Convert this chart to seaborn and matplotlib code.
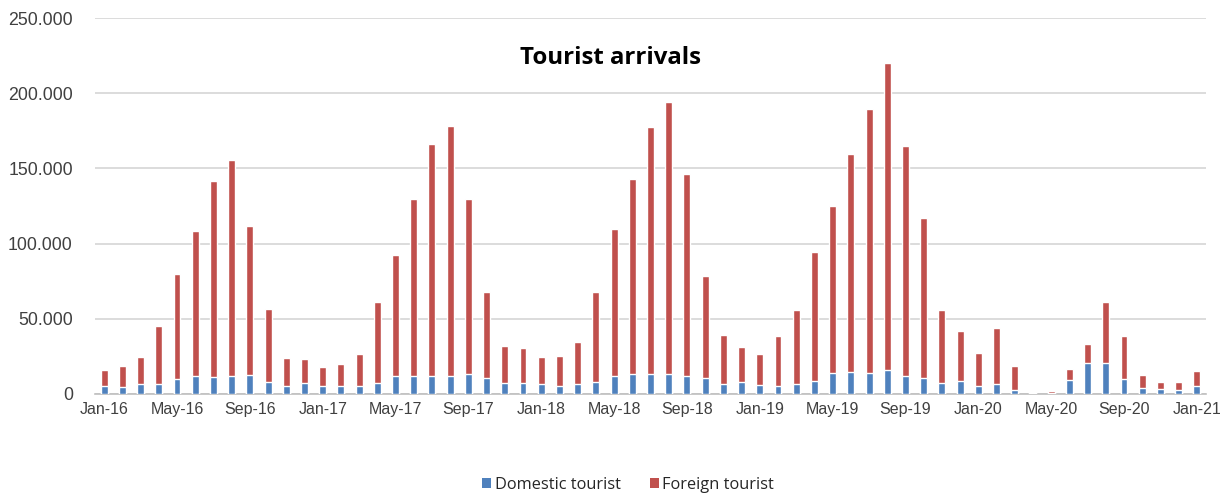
import matplotlib
matplotlib.use("Agg")
import matplotlib.pyplot as plt
from matplotlib.ticker import FuncFormatter
from matplotlib.patches import Patch
import numpy as np
import pandas as pd
import seaborn as sns

# Monthly tourist arrivals, Jan 2016 - Jan 2021
months = [f"{m}-{y}" for y in range(16, 21)
          for m in ["Jan", "Feb", "Mar", "Apr", "May", "Jun",
                    "Jul", "Aug", "Sep", "Oct", "Nov", "Dec"]] + ["Jan-21"]

domestic = [4900, 4400, 6200, 6200, 10000, 11500, 10900, 11800, 12400, 7800, 5300, 7100,
            5300, 4900, 5200, 7100, 12000, 12000, 12000, 12000, 12900, 10700, 7100, 7100,
            6200, 5300, 6200, 7800, 12000, 13100, 13100, 13100, 12000, 10700, 6700, 7500,
            6000, 5100, 6700, 8400, 13800, 14400, 13800, 16000, 11500, 10700, 7100, 8400,
            5300, 6200, 2700, 300, 500, 9300, 20400, 20400, 10000, 4000, 3300, 2700,
            4900]

foreign = [11100, 14000, 18200, 38900, 70000, 96800, 131000, 143700, 99600, 48600, 18500, 15800,
           12200, 15100, 21400, 53900, 80100, 117600, 154000, 166300, 116700, 57000, 24900, 23300,
           18200, 19800, 28200, 59900, 98000, 130100, 164500, 181200, 134300, 67900, 32200, 23600,
           20600, 33100, 48800, 86200, 111200, 145400, 176000, 204200, 153200, 106300, 48900, 33100,
           21700, 37800, 16000, 700, 1500, 7200, 12900, 40600, 28700, 8700, 4700, 5300,
           10100]

series_labels = ["Domestic tourist", "Foreign tourist"]
title = "Tourist arrivals"

df = pd.DataFrame({"month": months, "domestic": domestic, "foreign": foreign})
df["total"] = df["domestic"] + df["foreign"]

BLUE = "#4F81BD"
RED = "#C0504D"

sns.set_theme(style="white")
plt.rcParams["font.family"] = ["Liberation Sans", "DejaVu Sans"]

fig = plt.figure(figsize=(12.2, 4.94), dpi=100)
ax = fig.add_axes([0.0779, 0.2030, 0.9106, 0.7600])

# stacked bars: full height in red, domestic part over it in blue
sns.barplot(data=df, x="month", y="total", order=months, color=RED,
            width=0.38, saturation=1, ax=ax, zorder=3)
sns.barplot(data=df, x="month", y="domestic", order=months, color=BLUE,
            width=0.38, saturation=1, ax=ax, zorder=4)

ax.set_xlim(-0.5, len(months) - 0.5)
ax.set_ylim(0, 250000)
ax.set_yticks(np.arange(0, 250001, 50000))
ax.yaxis.set_major_formatter(FuncFormatter(lambda v, p: f"{int(v):,}".replace(",", ".")))
tick_idx = list(range(0, len(months), 4))
ax.set_xticks(tick_idx)
ax.set_xticklabels([months[i] for i in tick_idx])
ax.set_xlabel("")
ax.set_ylabel("")

ax.grid(axis="y", color="#d9d9d9", linewidth=1.3, zorder=0)
ax.grid(axis="x", visible=False)
for side in ["top", "right", "left"]:
    ax.spines[side].set_visible(False)
ax.spines["bottom"].set_color("#bfbfbf")
ax.spines["bottom"].set_linewidth(1.2)
ax.tick_params(axis="both", length=0, colors="#404040")
ax.tick_params(axis="y", labelsize=12.8, pad=16)
ax.tick_params(axis="x", labelsize=11.5, pad=6)
for lbl in ax.get_yticklabels():
    lbl.set_horizontalalignment("right")

fig.text(0.5, 0.882, title, ha="center", va="center", fontsize=17.3,
         fontweight="bold", family=["Open Sans", "DejaVu Sans"], color="black")

handles = [Patch(facecolor=BLUE, edgecolor="none"),
           Patch(facecolor=RED, edgecolor="none")]
fig.legend(handles, series_labels, loc="center", bbox_to_anchor=(0.515, 0.018),
           ncol=2, frameon=False, handlelength=0.55, handleheight=0.55,
           handletextpad=0.2, columnspacing=1.8,
           prop={"family": ["Open Sans", "DejaVu Sans"], "size": 11.8})

fig.savefig("out.png", dpi=100, facecolor="white")
